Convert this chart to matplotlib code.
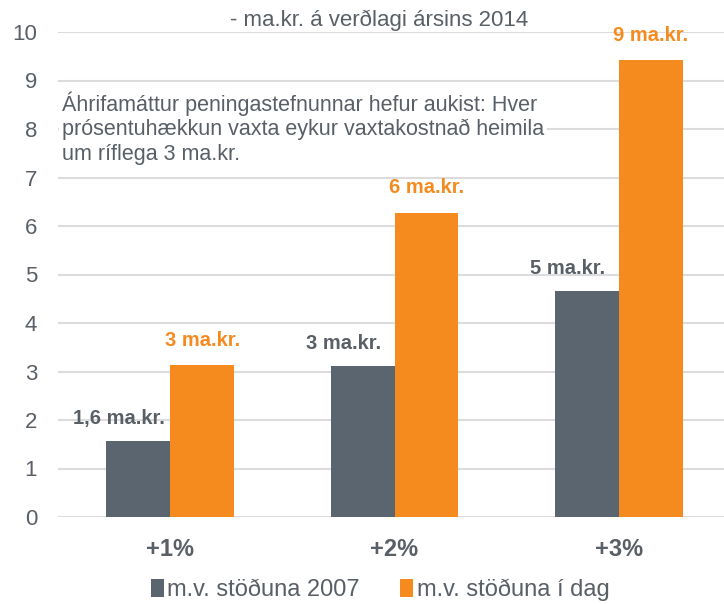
import matplotlib
matplotlib.use("Agg")
import matplotlib.pyplot as plt
import numpy as np

plt.rcParams['font.family'] = ['Liberation Sans', 'DejaVu Sans']

# data
categories = ["+1%", "+2%", "+3%"]
vals_2007 = [1.57, 3.12, 4.67]
vals_today = [3.13, 6.27, 9.42]
labels_2007 = ["1,6 ma.kr.", "3 ma.kr.", "5 ma.kr."]
labels_today = ["3 ma.kr.", "6 ma.kr.", "9 ma.kr."]
series_names = ["m.v. stöðuna 2007", "m.v. stöðuna í dag"]
yticks = list(range(0, 11))

gray = "#5b6570"
orange = "#f58b1f"
text_gray = "#595f66"

fig = plt.figure(figsize=(7.24, 6.04), dpi=100)
ax = fig.add_axes([58 / 724, 87 / 604, 673 / 724, 485 / 604])

x = np.arange(len(categories))
w = 0.285
b1 = ax.bar(x - w / 2, vals_2007, w, color=gray, label=series_names[0], zorder=2)
b2 = ax.bar(x + w / 2, vals_today, w, color=orange, label=series_names[1], zorder=2)

ax.set_xlim(-0.5, 2.5)
ax.set_ylim(0, 10)
ax.set_yticks(yticks)
ax.yaxis.grid(True, color="#dcdcdc", linewidth=1.5, zorder=0)
ax.set_axisbelow(True)
for s in ax.spines.values():
    s.set_visible(False)
ax.tick_params(axis="both", length=0)
ax.tick_params(axis="y", labelsize=16, labelcolor=text_gray, pad=15)
ax.set_xticks(x)
ax.set_xticklabels(categories, fontsize=17, fontweight="bold", color=text_gray)
ax.tick_params(axis="x", pad=15)

# value labels
for xi, v, lab in zip(x, vals_2007, labels_2007):
    ax.annotate(lab, xy=(xi - w / 2, v), xytext=(-14, 16), textcoords="offset points",
                ha="center", va="center", fontsize=14.5, fontweight="bold", color=text_gray)
for xi, v, lab in zip(x, vals_today, labels_today):
    ax.annotate(lab, xy=(xi + w / 2, v), xytext=(0, 18), textcoords="offset points",
                ha="center", va="center", fontsize=14.5, fontweight="bold", color=orange)

fig.text(379 / 724, 1 - 20 / 604, "- ma.kr. á verðlagi ársins 2014", ha="center", va="center",
         fontsize=16, color=text_gray)

fig.text(62 / 724, 1 - 128 / 604,
         "Áhrifamáttur peningastefnunnar hefur aukist: Hver\n"
         "prósentuhækkun vaxta eykur vaxtakostnað heimila\n"
         "um ríflega 3 ma.kr.",
         ha="left", va="center", fontsize=15.5, color=text_gray, linespacing=1.2,
         bbox=dict(facecolor="white", edgecolor="none", pad=2))

fig.legend(handles=[b1, b2], labels=series_names, loc="center", bbox_to_anchor=(380 / 724, 14 / 604),
           ncol=2, frameon=False, fontsize=17, handlelength=0.55, handleheight=0.75,
           handletextpad=0.15, columnspacing=1.7, labelcolor=text_gray)

fig.savefig("out.png", dpi=100)
